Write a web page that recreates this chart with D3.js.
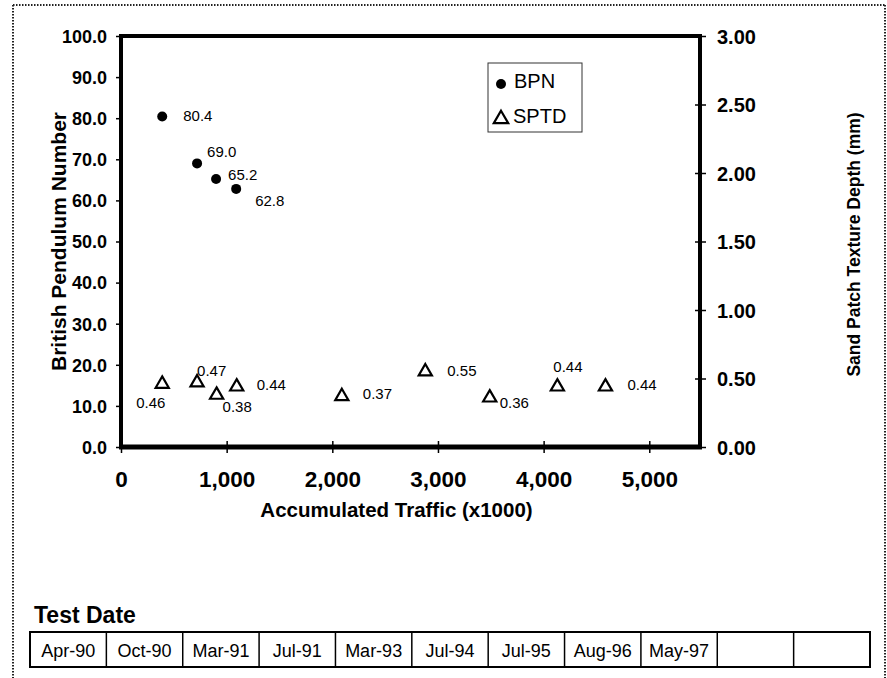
<!DOCTYPE html>
<html>
<head>
<meta charset="utf-8">
<script src="https://cdn.jsdelivr.net/npm/d3@7"></script>
<style>
  html, body { margin: 0; padding: 0; background: #fff; }
  svg { display: block; font-family: "Liberation Sans", Arial, sans-serif; }
</style>
</head>
<body>
<svg id="chart" width="887" height="678"></svg>
<script>
// ---- data ----
const testDates = ["Apr-90", "Oct-90", "Mar-91", "Jul-91", "Mar-93", "Jul-94", "Jul-95", "Aug-96", "May-97", "", ""];
const bpnTraffic = [390, 720, 900, 1090];
const bpnValues = [80.4, 69.0, 65.2, 62.8];
const sptdTraffic = [390, 720, 905, 1095, 2090, 2880, 3490, 4130, 4585];
const sptdValues = [0.46, 0.47, 0.38, 0.44, 0.37, 0.55, 0.36, 0.44, 0.44];
const xTicks = [0, 1000, 2000, 3000, 4000, 5000];
const leftTicks = [0, 10, 20, 30, 40, 50, 60, 70, 80, 90, 100];
const rightTicks = [0, 0.5, 1.0, 1.5, 2.0, 2.5, 3.0];
const xDomain = [0, 5480];
const leftDomain = [0, 100];
const rightDomain = [0, 3];

// label placement offsets (dx, dy) relative to the marker
const bpnLabelOffsets = [[21, 4], [10, -6], [12, 1], [19, 17]];
const sptdLabelOffsets = [[-26, 24], [0, -7], [6, 17], [20, 3], [21, 3], [22, 4], [10, 10], [-4, -15], [22, 3]];

const svg = d3.select("#chart");

// frame (dotted)
const frame = svg.append("g").attr("stroke", "#222").attr("stroke-width", 2).attr("stroke-dasharray", "1.5,1.5").attr("fill", "none");
frame.append("line").attr("x1", 13).attr("y1", 5).attr("x2", 885).attr("y2", 5);
frame.append("line").attr("x1", 13).attr("y1", 5).attr("x2", 13).attr("y2", 678);
frame.append("line").attr("x1", 885).attr("y1", 5).attr("x2", 885).attr("y2", 678);

const L = 121, R = 700, T = 36, B = 447;
const x = d3.scaleLinear().domain(xDomain).range([L, R]);
const yL = d3.scaleLinear().domain(leftDomain).range([B, T]);
const yR = d3.scaleLinear().domain(rightDomain).range([B, T]);

// plot box
svg.append("line").attr("x1", L).attr("x2", R).attr("y1", T).attr("y2", T).attr("stroke", "#000").attr("stroke-width", 4);

// left axis
const gL = svg.append("g").attr("transform", `translate(${L},0)`)
  .call(d3.axisLeft(yL).tickValues(leftTicks).tickFormat(d3.format(".1f")).tickSize(5).tickPadding(9));
gL.select(".domain").attr("stroke-width", 4).attr("d", `M0,${T - 2}V${B + 2}`);
gL.selectAll(".tick line").attr("stroke-width", 1.5);
gL.selectAll(".tick text").attr("font-size", 18).attr("font-weight", "bold").attr("fill", "#000").attr("dy", "0.35em");

// right axis
const gR = svg.append("g").attr("transform", `translate(${R},0)`)
  .call(d3.axisRight(yR).tickValues(rightTicks).tickFormat(d3.format(".2f")).tickSize(6).tickPadding(11));
gR.select(".domain").attr("stroke-width", 4).attr("d", `M0,${T - 2}V${B + 2}`);
gR.selectAll(".tick line").attr("stroke-width", 1.5).attr("x1", -5);
gR.selectAll(".tick text").attr("font-size", 20).attr("font-weight", "bold").attr("fill", "#000").attr("dy", "0.35em");

// bottom axis
const gX = svg.append("g").attr("transform", `translate(0,${B})`)
  .call(d3.axisBottom(x).tickValues(xTicks).tickFormat(d3.format(",")).tickSize(6).tickPadding(18));
gX.select(".domain").attr("stroke-width", 5).attr("d", `M${L - 2},0H${R + 2}`);
gX.selectAll(".tick line").attr("stroke-width", 1.5).attr("y1", -6);
gX.selectAll(".tick text").attr("font-size", 22.5).attr("font-weight", "bold").attr("fill", "#000");

// titles
svg.append("text").attr("x", (L + 700) / 2 - 14).attr("y", 517).attr("text-anchor", "middle")
  .attr("font-size", 20.5).attr("font-weight", "bold").text("Accumulated Traffic (x1000)");
svg.append("text").attr("transform", `translate(66,${(T + B) / 2}) rotate(-90)`).attr("text-anchor", "middle")
  .attr("font-size", 21).attr("font-weight", "bold").text("British Pendulum Number");
svg.append("text").attr("transform", `translate(860,${(T + B) / 2 + 3}) rotate(-90)`).attr("text-anchor", "middle")
  .attr("font-size", 17.5).attr("font-weight", "bold").text("Sand Patch Texture Depth (mm)");

// BPN series
const bpnData = bpnValues.map((v, i) => ({ t: bpnTraffic[i], v, off: bpnLabelOffsets[i] }));
svg.append("g").selectAll("circle").data(bpnData).join("circle")
  .attr("cx", d => x(d.t)).attr("cy", d => yL(d.v)).attr("r", 5).attr("fill", "#000");
svg.append("g").selectAll("text").data(bpnData).join("text")
  .attr("x", d => x(d.t) + d.off[0]).attr("y", d => yL(d.v) + d.off[1])
  .attr("font-size", 15).text(d => d3.format(".1f")(d.v));

// SPTD series
const tri = d3.symbol(d3.symbolTriangle, 75);
const sptdData = sptdValues.map((v, i) => ({ t: sptdTraffic[i], v, off: sptdLabelOffsets[i] }));
svg.append("g").selectAll("path").data(sptdData).join("path")
  .attr("transform", d => `translate(${x(d.t)},${yR(d.v)})`).attr("d", tri)
  .attr("fill", "#fff").attr("stroke", "#000").attr("stroke-width", 2.2).attr("stroke-linejoin", "miter");
svg.append("g").selectAll("text").data(sptdData).join("text")
  .attr("x", d => x(d.t) + d.off[0]).attr("y", d => yR(d.v) + d.off[1])
  .attr("font-size", 15).text(d => d3.format(".2f")(d.v));

// legend
const lg = svg.append("g");
lg.append("rect").attr("x", 488).attr("y", 63).attr("width", 94).attr("height", 69)
  .attr("fill", "#fff").attr("stroke", "#333").attr("stroke-width", 1);
lg.append("circle").attr("cx", 501).attr("cy", 84).attr("r", 5).attr("fill", "#000");
lg.append("text").attr("x", 514).attr("y", 88).attr("font-size", 20).text("BPN");
lg.append("path").attr("transform", "translate(501,119)").attr("d", d3.symbol(d3.symbolTriangle, 90))
  .attr("fill", "#fff").attr("stroke", "#000").attr("stroke-width", 2.2);
lg.append("text").attr("x", 513).attr("y", 123).attr("font-size", 20).text("SPTD");

// Test date table
svg.append("text").attr("x", 34).attr("y", 623).attr("font-size", 23).attr("font-weight", "bold").text("Test Date");
const tx0 = 30, tx1 = 870, ty0 = 632, ty1 = 667;
const cell = d3.scaleBand().domain(d3.range(testDates.length)).range([tx0, tx1]);
const tbl = svg.append("g");
tbl.append("rect").attr("x", tx0).attr("y", ty0).attr("width", tx1 - tx0).attr("height", ty1 - ty0)
  .attr("fill", "none").attr("stroke", "#000").attr("stroke-width", 2);
tbl.selectAll("line.div").data(testDates.slice(1)).join("line").attr("class", "div")
  .attr("x1", (d, i) => cell(i + 1)).attr("x2", (d, i) => cell(i + 1))
  .attr("y1", ty0).attr("y2", ty1).attr("stroke", "#000").attr("stroke-width", 1.5);
tbl.selectAll("text").data(testDates).join("text")
  .attr("x", (d, i) => cell(i) + cell.bandwidth() / 2).attr("y", 657)
  .attr("text-anchor", "middle").attr("font-size", 18).text(d => d);
</script>
</body>
</html>
